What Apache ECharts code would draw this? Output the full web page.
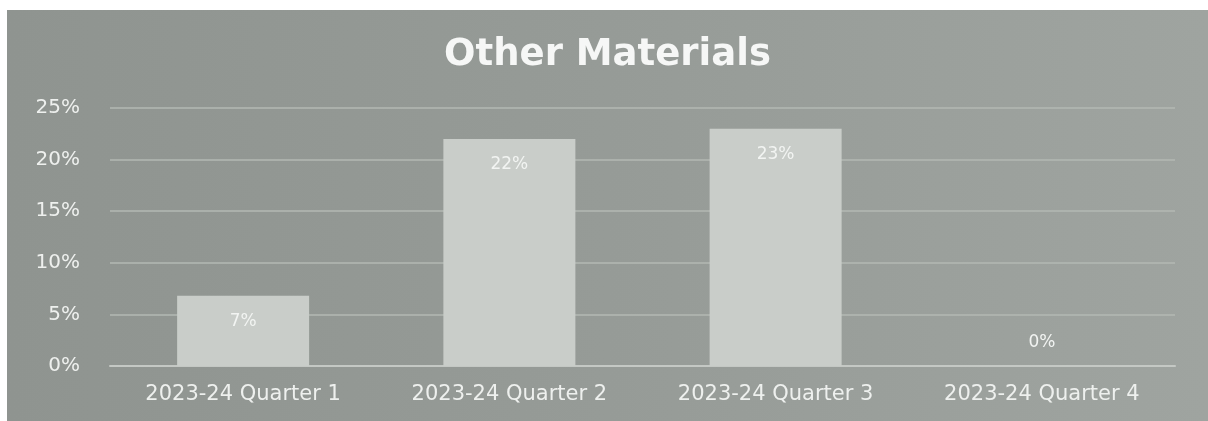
<!DOCTYPE html>
<html>
<head>
<meta charset="utf-8">
<script src="https://cdn.jsdelivr.net/npm/echarts@6/dist/echarts.min.js"></script>
<style>
html,body{margin:0;padding:0;background:#ffffff;width:1208px;height:421px;overflow:hidden;}
#chart{position:absolute;left:7px;top:10px;width:1201px;height:411px;}
</style>
</head>
<body>
<div id="chart"></div>
<script>
const categories = ['2023-24 Quarter 1', '2023-24 Quarter 2', '2023-24 Quarter 3', '2023-24 Quarter 4'];
const values = [6.8, 22, 23, 0];
const valueLabels = ['7%', '22%', '23%', '0%'];
const titleText = 'Other Materials';

const chart = echarts.init(document.getElementById('chart'), null, {renderer: 'canvas'});
const textColor = '#eef0ee';
chart.setOption({
  animation: false,
  backgroundColor: {
    type: 'linear', x: 0, y: 0, x2: 1, y2: 0,
    colorStops: [{offset: 0, color: '#8f9490'}, {offset: 0.5, color: '#969b97'}, {offset: 1, color: '#9fa4a0'}]
  },
  title: {
    text: titleText,
    left: 'center',
    top: 22,
    textStyle: {fontFamily: 'DejaVu Sans', fontWeight: 'bold', fontSize: 37, color: '#f6f7f6'}
  },
  grid: {left: 103, right: 33, top: 98, bottom: 55, containLabel: false},
  xAxis: {
    type: 'category',
    data: categories,
    axisLine: {lineStyle: {color: '#c4c8c4', width: 2}},
    axisTick: {show: false},
    axisLabel: {color: textColor, fontFamily: 'DejaVu Sans', fontSize: 21, margin: 18}
  },
  yAxis: {
    type: 'value',
    min: 0, max: 25, interval: 5,
    axisLine: {show: false},
    axisTick: {show: false},
    splitLine: {lineStyle: {color: '#b3b8b3', width: 1.5}},
    axisLabel: {color: textColor, fontFamily: 'DejaVu Sans', fontSize: 20, margin: 30, formatter: '{value}%'}
  },
  series: [{
    type: 'bar',
    barWidth: 132,
    itemStyle: {color: '#c9cdc9'},
    data: values.map((v, i) => ({
      value: v,
      label: {
        show: true,
        position: v > 0 ? 'insideTop' : 'top',
        distance: v > 0 ? 17 : 15,
        formatter: valueLabels[i],
        color: '#f2f4f2',
        fontFamily: 'DejaVu Sans',
        fontSize: 17
      }
    }))
  }]
});
</script>
</body>
</html>
